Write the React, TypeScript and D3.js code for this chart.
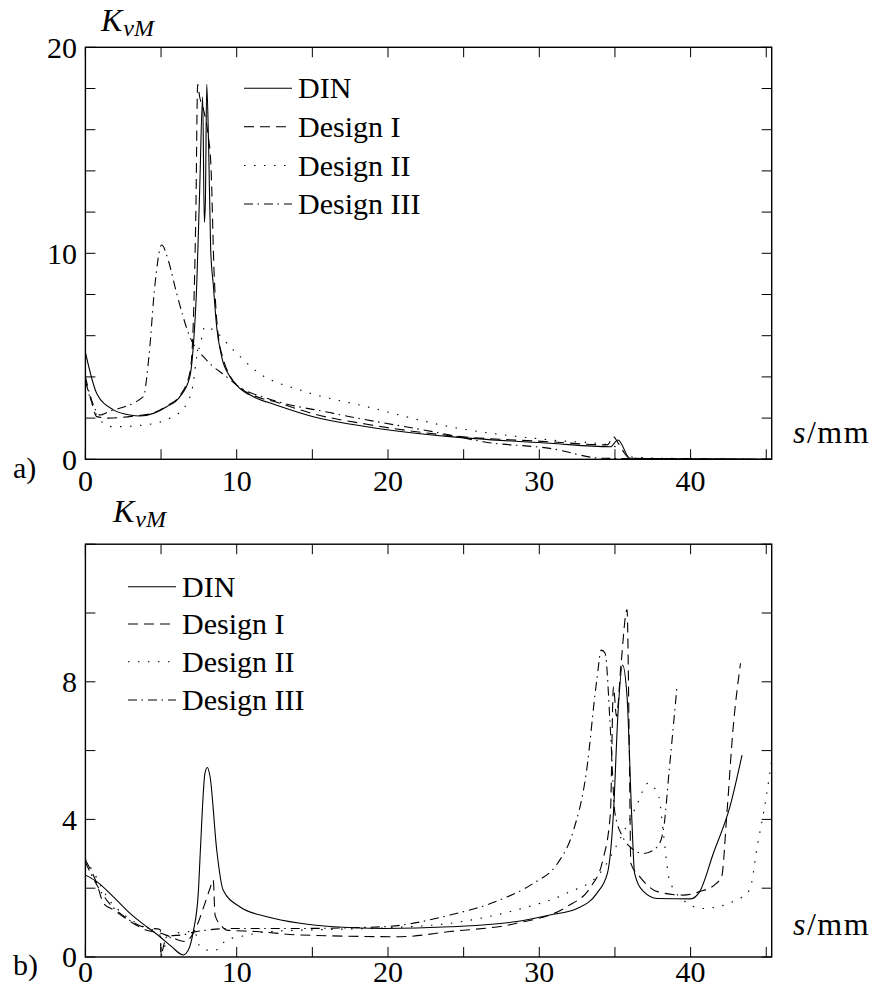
import React from "react";
import * as d3 from "d3";

type P = [number, number];

// ---------- Panel a data (s in mm, K_vM) ----------
const aDIN: P[] = [[0,5.2],[0.75,3.2],[1.85,2.4],[2.95,2.15],[3.6,2.1],[4.5,2.23],[5.37,2.55],[6.25,3.04],[6.9,4.0],[7.13,5.47],[7.36,8.5],[7.55,13],[7.75,17.6],[7.86,11.5],[7.93,12.5],[8.02,18.2],[8.15,15],[8.28,10.2],[8.45,8.5],[8.68,6.4],[9.0,5.0],[9.56,4.0],[10.2,3.45],[11.1,3.04],[12.6,2.64],[15.06,2.07],[18.6,1.58],[24.1,1.1],[30.7,0.78],[34.7,0.61],[35.2,0.94],[36.0,0.05],[40,0.02],[45.4,0.0]];
const aDesignI: P[] = [[0,3.8],[0.4,2.8],[0.75,2.07],[1.5,2.0],[3.2,2.1],[4.5,2.25],[5.4,2.6],[6.25,3.1],[6.9,4.2],[7.1,6],[7.3,12],[7.42,18.2],[7.55,17.6],[7.8,17.0],[8.1,15.8],[8.3,14.2],[8.5,9.2],[8.75,6.2],[9.1,4.9],[9.6,4.0],[10.2,3.5],[11.1,3.1],[12.6,2.78],[15,2.22],[18.6,1.7],[24.1,1.15],[30.7,0.85],[34.5,0.7],[34.9,1.1],[35.2,0.8],[36.0,0.05],[40,0.02],[45.4,0]];
const aDesignII: P[] = [[0,3.6],[0.3,3.0],[0.7,2.2],[1.2,1.75],[1.85,1.58],[3.8,1.66],[5.6,2.0],[6.7,2.7],[7.13,3.7],[7.36,5.0],[7.57,5.5],[7.9,6.44],[8.45,6.28],[9.78,5.3],[11.5,4.17],[14.2,3.36],[18.6,2.55],[24.1,1.58],[30.7,0.94],[34.7,0.69],[35.5,0.4],[36.2,0.1],[40,0.03],[45.4,0]];
const aDesignIII: P[] = [[0,4.0],[0.4,2.9],[0.97,2.15],[1.5,2.3],[3.83,3.04],[4.2,5],[4.6,8.5],[5.04,10.4],[5.5,9.6],[6.03,8.06],[6.9,5.95],[8.0,4.82],[9.34,4.0],[10.2,3.5],[12.0,2.96],[16.4,2.23],[24.1,1.18],[26.3,0.85],[30.7,0.53],[34.2,0.05],[40,0.02],[45.4,0]];

// ---------- Panel b data ----------
const bDIN: P[] = [[0,2.38],[0.75,2.19],[1.85,1.75],[2.95,1.27],[4.05,0.88],[4.93,0.59],[5.7,0.3],[6.47,0.06],[6.8,0.2],[7.13,0.74],[7.46,1.85],[7.6,3.11],[7.9,5.34],[8.06,5.51],[8.24,5.24],[8.68,3.11],[9.1,1.95],[10.2,1.46],[12.0,1.17],[14.2,0.98],[16.4,0.88],[19.7,0.83],[24.1,0.88],[28.5,1.03],[30.7,1.22],[32.5,1.41],[33.8,1.85],[34.5,2.43],[34.9,4.18],[35.2,7.08],[35.5,8.49],[35.8,7.57],[36.1,4.18],[36.3,2.43],[36.9,1.9],[37.8,1.7],[40.0,1.69],[40.6,1.9],[41.5,3.01],[42.6,4.37],[43.4,5.87]];
const bDesignI: P[] = [[0,2.82],[0.75,2.14],[1.2,1.56],[1.85,1.37],[2.5,1.17],[4.05,0.78],[4.93,0.7],[5.6,0.59],[6.58,0.45],[7.0,0.6],[7.36,0.9],[7.9,1.56],[8.24,2.0],[8.45,2.24],[8.57,1.22],[9.0,0.9],[9.34,0.78],[11.3,0.74],[14.2,0.64],[20.8,0.59],[24.1,0.74],[28.5,0.98],[31.8,1.46],[33.4,2.04],[34.2,2.82],[34.7,4.18],[34.9,7.86],[35.1,7.0],[35.4,8.5],[35.8,10.1],[35.95,6.0],[36.05,2.72],[36.65,2.33],[37.8,1.9],[39.5,1.8],[40.6,1.9],[41.7,2.14],[42.05,2.33],[42.4,4.18],[42.8,6.6],[43.3,8.54]];
const bDesignII: P[] = [[0,2.85],[0.75,2.3],[1.5,1.7],[2.5,1.25],[4.0,0.85],[4.9,0.7],[5.05,0.05],[5.15,0.2],[5.5,0.5],[6.1,0.7],[7.2,0.74],[7.57,0.3],[8.1,0.2],[8.6,0.2],[9.34,0.5],[10.2,0.59],[12.2,0.74],[16,0.8],[20,0.85],[24.1,0.98],[28.5,1.37],[31.8,1.85],[34.0,2.43],[35.3,3.4],[36.4,4.37],[37.2,5.05],[37.9,4.66],[38.2,3.6],[38.6,2.24],[39.5,1.66],[40.8,1.41],[42.8,1.61],[43.9,1.95],[44.4,3.2],[45.0,4.66],[45.36,5.73]];
const bDesignIII: P[] = [[0,2.75],[0.75,2.1],[1.5,1.6],[2.5,1.2],[4.0,0.85],[4.95,0.8],[5.0,0.0],[5.1,0.2],[5.4,0.6],[6.5,0.65],[7.36,0.74],[9.78,0.83],[14,0.83],[19.7,0.88],[24.1,1.22],[27.4,1.66],[29.6,2.14],[31.2,2.72],[32.2,3.6],[33.1,5.34],[33.8,8.05],[34.1,8.92],[34.35,8.83],[34.7,6.6],[35.0,4.18],[35.5,3.5],[36.0,3.2],[36.9,3.01],[37.8,3.2],[38.2,3.69],[38.6,5.5],[39.1,7.86]];

const seriesNames = ["DIN", "Design I", "Design II", "Design III"];
const dashes = ["none", "10,6", "1.5,8.5", "9,4.5,1.5,5"];

const xTicks = [0, 5, 10, 15, 20, 25, 30, 35, 40, 45];
const xLabels = [0, 10, 20, 30, 40];
const aYTicks = [0, 2, 4, 6, 8, 10, 12, 14, 16, 18, 20];
const aYLabels = [0, 10, 20];
const bYTicks = [0, 2, 4, 6, 8, 10, 12];
const bYLabels = [0, 4, 8];

const FONT = '"Liberation Serif", "Times New Roman", Times, "DejaVu Serif", serif';

const X0 = 85.4, X1 = 771.7;
const x = d3.scaleLinear().domain([0, 45.36]).range([X0, X1]);

interface PanelProps {
  id: string;
  data: P[][];
  yMax: number;
  top: number;
  bottom: number;
  yTicks: number[];
  yLabels: number[];
  xLabelBaseline: number;
  legendX: number;
  legendY: number[];
  kX: number;
  kY: number;
  smmBaseline: number;
  tag: string;
  tagBaseline: number;
}

const ts: React.CSSProperties = { fontFamily: FONT, fontSize: 30 };

function Panel(p: PanelProps) {
  const y = d3.scaleLinear().domain([0, p.yMax]).range([p.bottom, p.top]);
  const line = d3.line<P>().x(d => x(d[0])).y(d => y(d[1])).curve(d3.curveMonotoneX);
  const T = 10;
  return (
    <g>
      <defs>
        <clipPath id={"clip" + p.id}>
          <rect x={X0} y={p.top} width={X1 - X0} height={p.bottom - p.top} />
        </clipPath>
      </defs>
      <g clipPath={`url(#clip${p.id})`}>
        {p.data.map((s, i) => (
          <path key={i} d={line(s) || ""} fill="none" stroke="#000" strokeWidth={1.1}
            strokeDasharray={dashes[i]} />
        ))}
      </g>
      <rect x={X0} y={p.top} width={X1 - X0} height={p.bottom - p.top} fill="none" stroke="#000" strokeWidth={1.4} />
      {xTicks.map(t => (
        <g key={"xt" + t}>
          <line x1={x(t)} x2={x(t)} y1={p.bottom} y2={p.bottom - T} stroke="#000" strokeWidth={1} />
          <line x1={x(t)} x2={x(t)} y1={p.top} y2={p.top + T} stroke="#000" strokeWidth={1} />
        </g>
      ))}
      {p.yTicks.map(t => (
        <g key={"yt" + t}>
          <line x1={X0} x2={X0 + T} y1={y(t)} y2={y(t)} stroke="#000" strokeWidth={1} />
          <line x1={X1} x2={X1 - T} y1={y(t)} y2={y(t)} stroke="#000" strokeWidth={1} />
        </g>
      ))}
      <g fill="#000">
        {xLabels.map(t => (
          <text key={"xl" + t} style={ts} x={x(t)} y={p.xLabelBaseline} textAnchor="middle">{t}</text>
        ))}
        {p.yLabels.map(t => (
          <text key={"yl" + t} style={ts} x={77} y={y(t)} dy="0.34em" textAnchor="end">{t}</text>
        ))}
        <text style={{ ...ts, fontSize: 32, fontStyle: "italic" }} x={p.kX} y={p.kY}>K<tspan style={{ fontSize: 24 }} dx={1} dy={5}>vM</tspan></text>
        <text style={{ ...ts, fontSize: 32, letterSpacing: 1.5 }} x={793} y={p.smmBaseline}><tspan style={{ fontStyle: "italic" }}>s</tspan>/mm</text>
        <text style={ts} x={13} y={p.tagBaseline}>{p.tag}</text>
        {seriesNames.map((n, i) => (
          <g key={n}>
            <line x1={p.legendX} x2={p.legendX + 48} y1={p.legendY[i]} y2={p.legendY[i]}
              stroke="#000" strokeWidth={1.1} strokeDasharray={dashes[i]} />
            <text style={ts} x={p.legendX + 54} y={p.legendY[i] + 10}>{n}</text>
          </g>
        ))}
      </g>
    </g>
  );
}

export default function App() {
  return (
    <svg width={878} height={995} style={{ position: "absolute", left: 0, top: 0, background: "#fff", fontFamily: FONT }}>
      <rect width={878} height={995} fill="#fff" />
      <Panel id="a" data={[aDIN, aDesignI, aDesignII, aDesignIII]} yMax={20} top={47.3} bottom={459.3}
        yTicks={aYTicks} yLabels={aYLabels} xLabelBaseline={491}
        legendX={244} legendY={[88.3, 126.7, 165.5, 204]}
        kX={101} kY={31} smmBaseline={443} tag="a)" tagBaseline={478} />
      <Panel id="b" data={[bDIN, bDesignI, bDesignII, bDesignIII]} yMax={12} top={544.2} bottom={957}
        yTicks={bYTicks} yLabels={bYLabels} xLabelBaseline={982}
        legendX={128} legendY={[586.7, 624, 661.7, 700]}
        kX={113} kY={522} smmBaseline={935} tag="b)" tagBaseline={975} />
    </svg>
  );
}
